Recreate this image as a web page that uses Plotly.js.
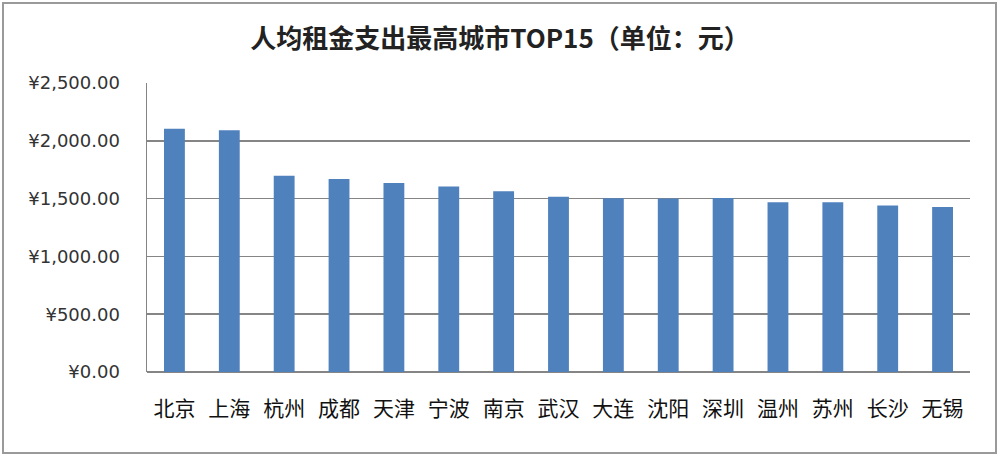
<!DOCTYPE html>
<html>
<head>
<meta charset="utf-8">
<script src="https://cdn.plot.ly/plotly-3.0.1.min.js"></script>
<style>
  body { margin: 0; background: #fff; }
  #wrap { position: relative; width: 1000px; height: 456px; }
  #chart { width: 1000px; height: 456px; }
  #frame { position: absolute; left: 2px; top: 2px; right: 3px; bottom: 2px;
           border: 2px solid #9a9a9a; pointer-events: none; }
</style>
</head>
<body>
<div id="wrap">
  <div id="chart"></div>
  <div id="frame"></div>
</div>
<script>
var cities = ['北京', '上海', '杭州', '成都', '天津', '宁波', '南京', '武汉',
              '大连', '沈阳', '深圳', '温州', '苏州', '长沙', '无锡'];
var rent = [2105, 2091, 1698, 1669, 1635, 1605, 1563, 1517,
            1502, 1500, 1505, 1469, 1469, 1441, 1427];
var yTicks = [0, 500, 1000, 1500, 2000, 2500];

// Excel-style currency labels, e.g. ¥2,500.00
var yTickText = yTicks.map(function (v) {
    return '¥' + v.toLocaleString('en-US', {minimumFractionDigits: 2, maximumFractionDigits: 2});
});

var data = [{
    x: cities,
    y: rent,
    type: 'bar',
    width: 0.38,
    marker: {color: '#4f81bd'},
    hoverinfo: 'x+y'
}];

var layout = {
    width: 1000,
    height: 456,
    margin: {l: 147, r: 30, t: 83, b: 84},
    paper_bgcolor: '#ffffff',
    plot_bgcolor: '#ffffff',
    font: {family: 'Noto Sans CJK SC, sans-serif', color: '#222'},
    title: {
        text: '<b>人均租金支出最高城市TOP15（单位：元）</b>',
        font: {size: 26, color: '#222'},
        x: 0.5,
        xanchor: 'center',
        y: 0.915,
        yanchor: 'middle'
    },
    xaxis: {
        type: 'category',
        tickfont: {size: 21, color: '#111'},
        ticklabelstandoff: 22,
        showline: false,
        ticks: ''
    },
    yaxis: {
        range: [0, 2500],
        tickvals: yTicks,
        ticktext: yTickText,
        tickfont: {size: 18, color: '#333', family: 'DejaVu Sans, sans-serif'},
        ticklabelstandoff: 22,
        showgrid: true,
        gridcolor: '#858585',
        gridwidth: 1.5,
        zeroline: true,
        zerolinecolor: '#858585',
        zerolinewidth: 1.5,
        showline: true,
        linecolor: '#858585',
        linewidth: 1.5,
        ticks: ''
    },
    bargap: 0.62,
    showlegend: false
};

Plotly.newPlot('chart', data, layout, {displayModeBar: false, staticPlot: true});
</script>
</body>
</html>
